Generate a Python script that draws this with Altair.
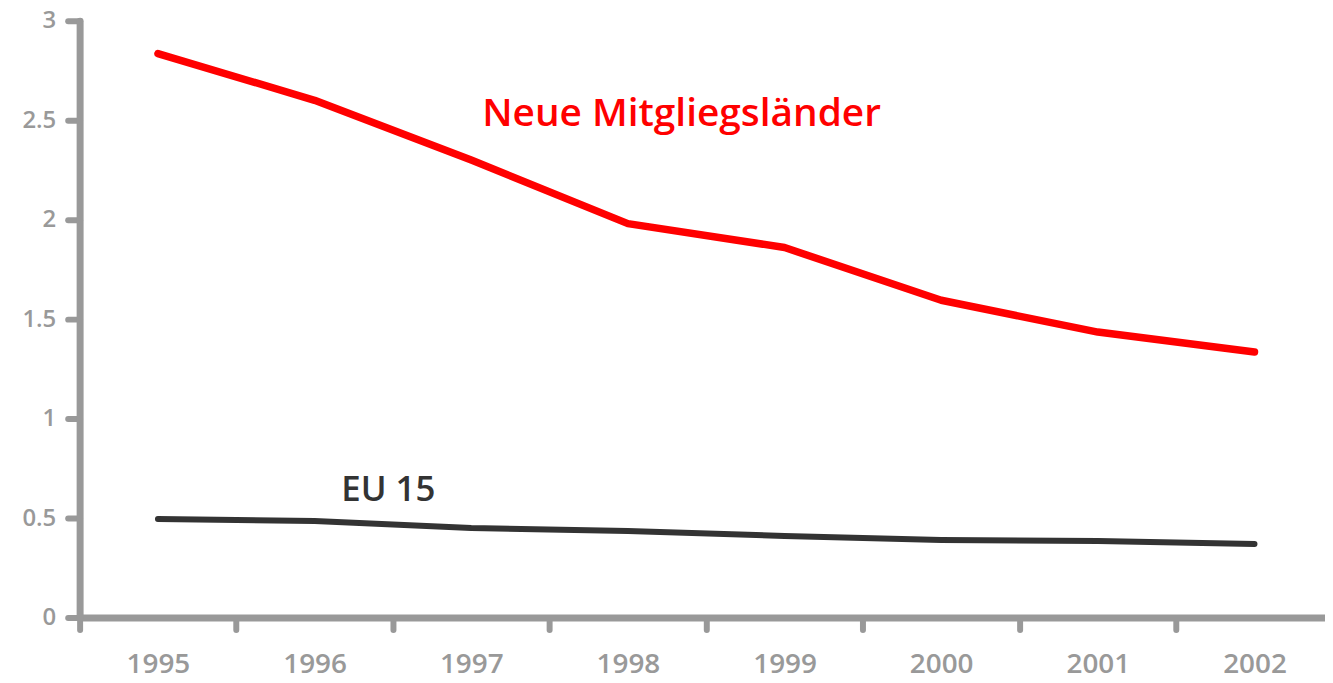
import altair as alt
import pandas as pd

years = [1995, 1996, 1997, 1998, 1999, 2000, 2001, 2002]
neue = [2.835, 2.6, 2.3, 1.98, 1.86, 1.595, 1.435, 1.335]
eu15 = [0.495, 0.485, 0.45, 0.435, 0.41, 0.39, 0.385, 0.37]

series_names = ["Neue Mitgliegsländer", "EU 15"]
series_colors = ["#ff0000", "#333333"]

# annotation anchors (data space)
label_year = [1997.07, 1996.17]
label_value = [2.53, 0.64]
label_size = [39, 35]

half_ticks = [1994.5, 1995.5, 1996.5, 1997.5, 1998.5, 1999.5, 2000.5, 2001.5]

rows = []
for y, a, b in zip(years, neue, eu15):
    rows.append({"year": y, "value": a, "series": series_names[0]})
    rows.append({"year": y, "value": b, "series": series_names[1]})
df = pd.DataFrame(rows)

lab = pd.DataFrame({"series": series_names, "year": label_year, "value": label_value, "size": label_size})

color_scale = alt.Scale(domain=series_names, range=series_colors)
xscale = alt.Scale(domain=[1994.5, 2002.45], nice=False, zero=False)
yscale = alt.Scale(domain=[0, 3], nice=False)

gray = "#999999"

xaxis = alt.Axis(
    values=half_ticks + years,
    title=None,
    grid=False,
    domainColor=gray,
    domainWidth=7,
    domainCap="round",
    tickColor=gray,
    tickWidth=6,
    tickSize=12,
    tickCap="round",
    tickOpacity={"condition": {"test": "datum.value % 1 !== 0", "value": 1}, "value": 0},
    labelExpr="datum.value % 1 === 0 ? format(datum.value, 'd') : ''",
    labelOverlap=False,
    labelFont="Open Sans",
    labelFontSize=28,
    labelFontWeight=600,
    labelColor=gray,
    labelPadding=21,
    labelFlush=False,
)

yaxis = alt.Axis(
    values=[0, 0.5, 1, 1.5, 2, 2.5, 3],
    format="~g",
    title=None,
    grid=False,
    domainColor=gray,
    domainWidth=7,
    domainCap="round",
    tickColor=gray,
    tickWidth=6,
    tickSize=12,
    tickCap="round",
    labelFont="Open Sans",
    labelFontSize=24,
    labelFontWeight=600,
    labelColor=gray,
    labelPadding=12,
    labelFlush=False,
    labelOverlap=False,
)

lines = alt.Chart(df).mark_line(strokeCap="round", strokeJoin="round").encode(
    x=alt.X("year:Q", scale=xscale, axis=xaxis),
    y=alt.Y("value:Q", scale=yscale, axis=yaxis),
    color=alt.Color("series:N", scale=color_scale, legend=None),
    strokeWidth=alt.StrokeWidth("series:N", scale=alt.Scale(domain=series_names, range=[7.5, 6]), legend=None),
)

texts = alt.Chart(lab).mark_text(align="left", baseline="middle", font="Open Sans", fontWeight=600).encode(
    x=alt.X("year:Q", scale=xscale),
    y=alt.Y("value:Q", scale=yscale),
    text="series:N",
    color=alt.Color("series:N", scale=color_scale, legend=None),
    size=alt.Size("size:Q", scale=None, legend=None),
)

chart = alt.layer(lines, texts).properties(
    width=1252,
    height=600,
    background="white",
    autosize=alt.AutoSizeParams(type="none"),
    padding={"left": 72, "top": 11, "right": 0, "bottom": 64},
).configure_view(strokeWidth=0, stroke=None).configure_axis(grid=False)

chart.save("out.html", embed_options={"renderer": "svg", "actions": False})
